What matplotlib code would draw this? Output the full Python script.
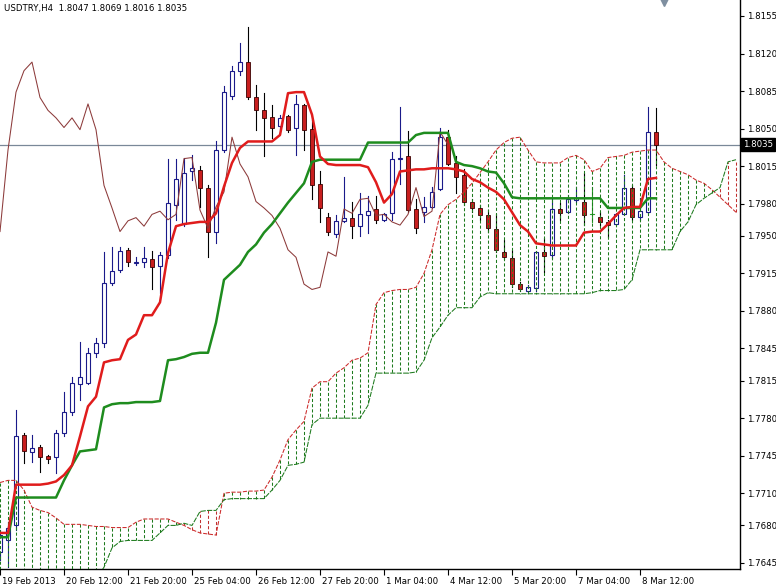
import matplotlib
matplotlib.use("Agg")
import matplotlib.pyplot as plt
import matplotlib.transforms as mtransforms
from matplotlib.patches import Rectangle

title_text = "USDTRY,H4  1.8047 1.8069 1.8016 1.8035"

opens = [1.7655, 1.7666, 1.7680, 1.7764, 1.7748, 1.7753, 1.7745, 1.7744, 1.7766, 1.7786,
         1.7812, 1.7813, 1.7841, 1.7850, 1.7906, 1.7918, 1.7937, 1.7925, 1.7926, 1.7928,
         1.7922, 1.7932, 1.7979, 1.7961, 1.8010, 1.8011, 1.7995, 1.7954, 1.8030, 1.8080,
         1.8104, 1.8112, 1.8079, 1.8067, 1.8061, 1.8052, 1.8062, 1.8051, 1.8072, 1.8050,
         1.7998, 1.7968, 1.7952, 1.7964, 1.7967, 1.7959, 1.7969, 1.7975, 1.7965, 1.7971,
         1.8022, 1.8024, 1.7975, 1.7972, 1.7977, 1.7994, 1.8042, 1.8018, 1.8007, 1.7982,
         1.7976, 1.7969, 1.7956, 1.7935, 1.7929, 1.7905, 1.7899, 1.7901, 1.7935, 1.7932,
         1.7975, 1.7972, 1.7983, 1.7982, 1.7970, 1.7968, 1.7963, 1.7961, 1.7970, 1.7995,
         1.7968, 1.7972, 1.8047]
highs = [1.7676, 1.7683, 1.7788, 1.7766, 1.7764, 1.7755, 1.7746, 1.7769, 1.7804, 1.7818,
         1.7851, 1.7845, 1.7855, 1.7935, 1.7940, 1.7940, 1.7939, 1.7930, 1.7940, 1.7936,
         1.7935, 1.8022, 1.8022, 1.8023, 1.8025, 1.8015, 1.7997, 1.8038, 1.8090, 1.8108,
         1.8130, 1.8145, 1.8091, 1.8083, 1.8072, 1.8063, 1.8063, 1.8081, 1.8073, 1.8058,
         1.8010, 1.7971, 1.7969, 1.8005, 1.7982, 1.7990, 1.7987, 1.7987, 1.7971, 1.8028,
         1.8070, 1.8048, 1.7984, 1.7986, 1.7996, 1.8051, 1.8049, 1.8024, 1.8012, 1.7984,
         1.7979, 1.7974, 1.7970, 1.7946, 1.7937, 1.7907, 1.7904, 1.7936, 1.7948, 1.7984,
         1.7981, 1.7988, 1.7996, 1.8009, 1.7996, 1.7972, 1.7965, 1.7971, 1.8007, 1.7997,
         1.7985, 1.8070, 1.8069]
lows = [1.7648, 1.7641, 1.7676, 1.7738, 1.7739, 1.7730, 1.7738, 1.7729, 1.7763, 1.7783,
        1.7797, 1.7812, 1.7837, 1.7846, 1.7904, 1.7916, 1.7922, 1.7923, 1.7921, 1.7900,
        1.7897, 1.7929, 1.7965, 1.7959, 1.8002, 1.7977, 1.7930, 1.7943, 1.8028, 1.8078,
        1.8100, 1.8078, 1.8049, 1.8024, 1.8041, 1.8049, 1.8047, 1.8025, 1.8030, 1.7984,
        1.7963, 1.7951, 1.7949, 1.7963, 1.7948, 1.7950, 1.7953, 1.7962, 1.7964, 1.7965,
        1.7998, 1.7972, 1.7953, 1.7963, 1.7976, 1.7993, 1.8016, 1.7990, 1.7979, 1.7972,
        1.7965, 1.7954, 1.7935, 1.7928, 1.7902, 1.7899, 1.7898, 1.7899, 1.7916, 1.7929,
        1.7965, 1.7971, 1.7982, 1.7960, 1.7963, 1.7960, 1.7949, 1.7960, 1.7969, 1.7965,
        1.7965, 1.7971, 1.8016]
closes = [1.7671, 1.7678, 1.7763, 1.7749, 1.7752, 1.7744, 1.7742, 1.7766, 1.7786, 1.7813,
          1.7818, 1.7841, 1.7850, 1.7906, 1.7917, 1.7936, 1.7926, 1.7926, 1.7929, 1.7921,
          1.7932, 1.7981, 1.8003, 1.8009, 1.8013, 1.7995, 1.7954, 1.8030, 1.8084, 1.8104,
          1.8112, 1.8079, 1.8067, 1.8060, 1.8051, 1.8060, 1.8049, 1.8073, 1.8049, 1.7997,
          1.7976, 1.7954, 1.7964, 1.7967, 1.7959, 1.7970, 1.7973, 1.7965, 1.7970, 1.8022,
          1.8023, 1.7974, 1.7957, 1.7977, 1.7991, 1.8042, 1.8017, 1.8005, 1.7982, 1.7976,
          1.7969, 1.7957, 1.7937, 1.7930, 1.7905, 1.7900, 1.7902, 1.7935, 1.7931, 1.7975,
          1.7971, 1.7984, 1.7985, 1.7969, 1.7970, 1.7963, 1.7960, 1.7970, 1.7995, 1.7968,
          1.7973, 1.8047, 1.8035]

tenkan = [1.7673, 1.7673, 1.7718, 1.7718, 1.7718, 1.7718, 1.7719, 1.7721, 1.7727, 1.7736,
          1.7763, 1.7791, 1.7800, 1.7832, 1.7834, 1.7835, 1.7853, 1.7858, 1.7876, 1.7876,
          1.7888, 1.7934, 1.7959, 1.7961, 1.7962, 1.7963, 1.7963, 1.7971, 1.7996, 1.8018,
          1.8032, 1.8038, 1.8038, 1.8038, 1.8038, 1.8044, 1.8083, 1.8084, 1.8084, 1.8063,
          1.8024, 1.8017, 1.8016, 1.8016, 1.8016, 1.8016, 1.8014, 1.8000, 1.7981, 1.7989,
          1.8010, 1.8011, 1.8012, 1.8012, 1.8013, 1.8013, 1.8013, 1.8012, 1.8010, 1.8003,
          1.8000, 1.7995, 1.7991, 1.7984, 1.7972, 1.7960, 1.7954, 1.7943, 1.7942, 1.7941,
          1.7941, 1.7941, 1.7941, 1.7953, 1.7954, 1.7954, 1.7961, 1.7969, 1.7976, 1.7977,
          1.7977, 1.8003, 1.8004]
kijun = [1.7669, 1.7669, 1.7706, 1.7706, 1.7706, 1.7706, 1.7706, 1.7706, 1.7722, 1.7736,
         1.7749, 1.7750, 1.7751, 1.7790, 1.7793, 1.7794, 1.7794, 1.7795, 1.7795, 1.7795,
         1.7796, 1.7834, 1.7835, 1.7837, 1.7840, 1.7841, 1.7841, 1.7869, 1.7909, 1.7916,
         1.7923, 1.7935, 1.7942, 1.7953, 1.7961, 1.7971, 1.7981, 1.7990, 1.7999, 1.8019,
         1.8021, 1.8021, 1.8021, 1.8021, 1.8021, 1.8021, 1.8037, 1.8037, 1.8037, 1.8037,
         1.8037, 1.8037, 1.8044, 1.8046, 1.8046, 1.8046, 1.8046, 1.8019, 1.8016, 1.8015,
         1.8013, 1.8010, 1.8009, 1.7999, 1.7986, 1.7985, 1.7985, 1.7985, 1.7985, 1.7985,
         1.7985, 1.7985, 1.7985, 1.7985, 1.7985, 1.7985, 1.7976, 1.7976, 1.7976, 1.7976,
         1.7976, 1.7985, 1.7985]
span_a = [1.7720, 1.7722, 1.7722, 1.7713, 1.7697, 1.7694, 1.7692, 1.7687, 1.7681, 1.7681,
          1.7681, 1.7680, 1.7679, 1.7679, 1.7678, 1.7678, 1.7678, 1.7683, 1.7686, 1.7686,
          1.7686, 1.7686, 1.7683, 1.7680, 1.7676, 1.7673, 1.7672, 1.7671, 1.7710, 1.7711,
          1.7711, 1.7712, 1.7712, 1.7713, 1.7725, 1.7741, 1.7760, 1.7769, 1.7777, 1.7808,
          1.7814, 1.7814, 1.7822, 1.7827, 1.7834, 1.7836, 1.7841, 1.7886, 1.7897, 1.7899,
          1.7900, 1.7900, 1.7902, 1.7915, 1.7937, 1.7970, 1.7979, 1.7984, 1.7991, 1.7999,
          1.8009, 1.8019, 1.8030, 1.8037, 1.8041, 1.8042, 1.8030, 1.8019, 1.8018, 1.8018,
          1.8018, 1.8023, 1.8025, 1.8021, 1.8010, 1.8013, 1.8023, 1.8024, 1.8025, 1.8028,
          1.8029, 1.8030, 1.8030, 1.8019, 1.8013, 1.8010, 1.8007, 1.8002, 1.7999, 1.7993,
          1.7986, 1.7979, 1.7972]
span_b = [1.7620, 1.7620, 1.7620, 1.7620, 1.7620, 1.7620, 1.7620, 1.7620, 1.7620, 1.7620,
          1.7620, 1.7625, 1.7630, 1.7641, 1.7659, 1.7665, 1.7666, 1.7666, 1.7666, 1.7666,
          1.7673, 1.7680, 1.7680, 1.7682, 1.7680, 1.7693, 1.7694, 1.7694, 1.7704, 1.7705,
          1.7705, 1.7705, 1.7705, 1.7705, 1.7713, 1.7722, 1.7736, 1.7737, 1.7739, 1.7774,
          1.7780, 1.7780, 1.7780, 1.7780, 1.7780, 1.7780, 1.7792, 1.7822, 1.7822, 1.7822,
          1.7822, 1.7822, 1.7823, 1.7834, 1.7855, 1.7865, 1.7876, 1.7883, 1.7883, 1.7883,
          1.7893, 1.7897, 1.7896, 1.7896, 1.7896, 1.7896, 1.7896, 1.7896, 1.7896, 1.7896,
          1.7896, 1.7896, 1.7896, 1.7896, 1.7897, 1.7899, 1.7899, 1.7899, 1.7900, 1.7909,
          1.7937, 1.7937, 1.7937, 1.7937, 1.7937, 1.7954, 1.7963, 1.7979, 1.7985, 1.7990,
          1.7995, 1.8019, 1.8021]
chikou_shift = 26

xtick_positions = [0, 8, 16, 24, 32, 40, 48, 56, 64, 72, 80]
xtick_labels = ["19 Feb 2013", "20 Feb 12:00", "21 Feb 20:00", "25 Feb 04:00", "26 Feb 12:00",
                "27 Feb 20:00", "1 Mar 04:00", "4 Mar 12:00", "5 Mar 20:00", "7 Mar 04:00",
                "8 Mar 12:00"]
ytick_values = [1.8155, 1.8120, 1.8085, 1.8050, 1.8015, 1.7980, 1.7950, 1.7915, 1.7880,
                1.7845, 1.7815, 1.7780, 1.7745, 1.7710, 1.7680, 1.7645]
last_price = 1.8035

FONT = "DejaVu Sans"
FS = 6.2
W, H = 776, 586
fig = plt.figure(figsize=(W / 100, H / 100), dpi=100)
fig.patch.set_facecolor("white")
ax = fig.add_axes([0, (H - 569) / H, 740 / W, 569 / H])
ax.set_xlim(0, 740 / 8)
ax.set_ylim(1.81699 - 569 / 10725, 1.81699)

# Kumo hatch
for k in range(len(span_a)):
    a, b = span_a[k], span_b[k]
    col = "#1d7a1d" if a >= b else "#c03030"
    ax.plot([k, k], [a, b], color=col, lw=0.75, ls=(0, (3, 2)), zorder=3)
ax.plot(range(len(span_a)), span_a, color="#cc2a2a", lw=0.75, ls=(0, (4, 1.5)), zorder=3)
ax.plot(range(len(span_b)), span_b, color="#1d7a1d", lw=0.75, ls=(0, (5, 1.2)), zorder=3)

# candles
bw = 0.62
for k in range(len(opens)):
    o, h, l, c = opens[k], highs[k], lows[k], closes[k]
    if c > o:
        ax.plot([k, k], [l, h], color="#1a1a8a", lw=0.8, zorder=2)
        ax.add_patch(Rectangle((k - bw / 2, o), bw, c - o, facecolor="white",
                               edgecolor="#1a1a8a", lw=0.8, zorder=2.5))
    elif c < o:
        ax.plot([k, k], [l, h], color="black", lw=0.8, zorder=2)
        ax.add_patch(Rectangle((k - bw / 2, c), bw, o - c, facecolor="#c81e1e",
                               edgecolor="#3a0000", lw=0.6, zorder=2.5))
    else:
        ax.plot([k, k], [l, h], color="#2aa02a", lw=0.8, zorder=2)
        ax.plot([k - bw / 2, k + bw / 2], [o, o], color="#2aa02a", lw=0.8, zorder=2.5)

# chikou
n_ch = len(closes) - chikou_shift
ax.plot(range(n_ch), closes[chikou_shift:], color="#8c3a3a", lw=0.75, zorder=3.5)

# tenkan / kijun
ax.plot(range(len(kijun)), kijun, color="#1e8c1e", lw=1.8, zorder=4, solid_joinstyle="round")
ax.plot(range(len(tenkan)), tenkan, color="#e01c1c", lw=1.8, zorder=4.2, solid_joinstyle="round")

# price line
ax.axhline(last_price, color="#7a8898", lw=0.9, zorder=1)

# chart shift marker
ax.plot([83], [1.81699], marker="v", ms=8, color="#7f8fa0", clip_on=False, zorder=6)

# spines
for s in ["top", "left"]:
    ax.spines[s].set_visible(False)
for s in ["right", "bottom"]:
    ax.spines[s].set_color("black")
    ax.spines[s].set_linewidth(1.0)

ax.yaxis.tick_right()
ax.set_yticks(ytick_values)
ax.set_yticklabels([f"{v:.4f}" for v in ytick_values], fontsize=FS, family=FONT)
ax.tick_params(axis="y", direction="out", length=3, width=0.8, pad=2, colors="black")
for lab in ax.get_yticklabels():
    lab.set_horizontalalignment("left")

ax.set_xticks(xtick_positions)
ax.set_xticklabels(xtick_labels, fontsize=FS, family=FONT)
ax.tick_params(axis="x", direction="out", length=4, width=0.8, pad=1.5, colors="black")
off = mtransforms.ScaledTranslation(1.5 / 100, 0, fig.dpi_scale_trans)
for lab in ax.get_xticklabels():
    lab.set_horizontalalignment("left")
    lab.set_transform(lab.get_transform() + off)

# current price box
trans = mtransforms.blended_transform_factory(ax.transAxes, ax.transData)
ax.text(1.0 + 3 / 740, last_price, f"{last_price:.4f}", transform=trans, fontsize=FS,
        family=FONT, color="white", va="center", ha="left", zorder=10,
        bbox=dict(boxstyle="square,pad=0.25", facecolor="black", edgecolor="black"))

fig.text(4 / W, 1 - 8 / H, title_text, fontsize=FS, family=FONT, color="black",
         va="center", ha="left")

fig.savefig("out.png", dpi=100, facecolor="white")
